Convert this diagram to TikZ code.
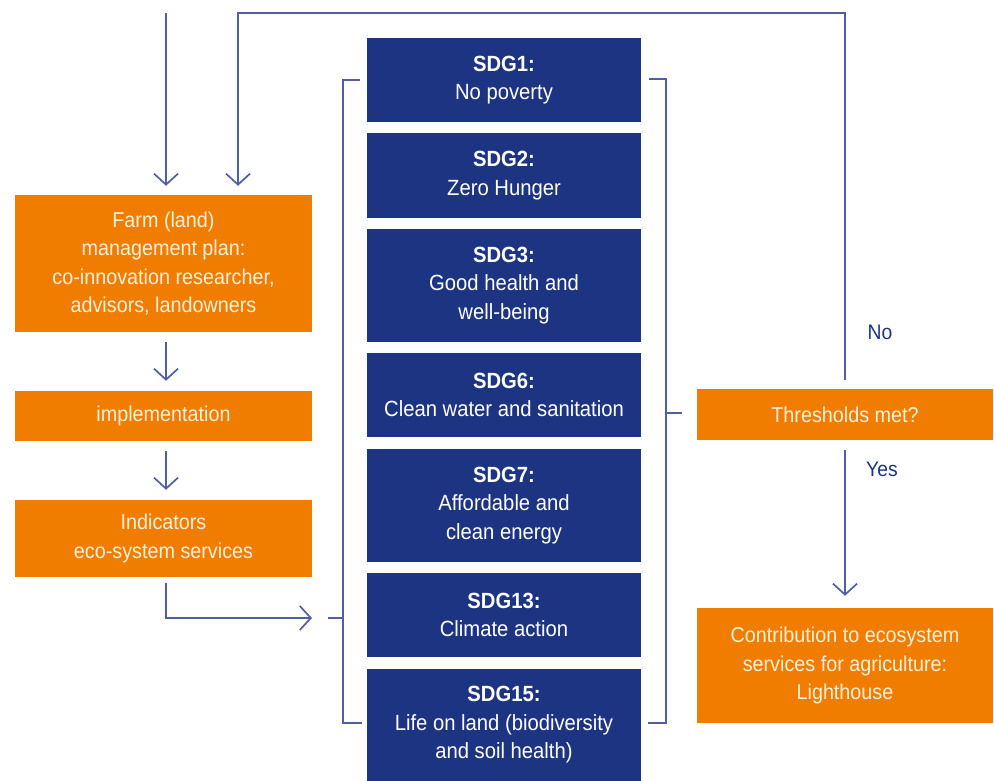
\documentclass[tikz,border=0pt]{standalone}
\usepackage{fontspec}
\setmainfont{Liberation Sans}[FakeStretch=0.92]
\usetikzlibrary{arrows.meta}
\definecolor{navy}{HTML}{1C3482}
\definecolor{orng}{HTML}{F07C00}
\definecolor{linec}{HTML}{505FA5}
\definecolor{cream}{HTML}{FFF1DA}
\tikzset{
  sdg/.style={fill=navy, text=white, minimum width=274pt, align=center, inner sep=0pt,
    font=\fontsize{22}{28.5}\selectfont},
  obox/.style={fill=orng, text=cream, align=center, inner sep=0pt,
    font=\fontsize{21.5}{28.5}\selectfont},
  lbl/.style={text=navy, inner sep=0pt, font=\fontsize{21}{25}\selectfont},
  conn/.style={draw=linec, line width=1.7pt},
  arr/.style={conn, -{Straight Barb[length=11pt,width=24pt]}}
}
\begin{document}
\begin{tikzpicture}[x=1pt,y=-1pt]
\useasboundingbox (0,0) rectangle (994,781);
% SDG column
\node[sdg, minimum height=84pt]  (s1)  at (504,80)    {\textbf{SDG1:}\\No poverty};
\node[sdg, minimum height=85pt]  (s2)  at (504,175.5) {\textbf{SDG2:}\\Zero Hunger};
\node[sdg, minimum height=113pt] (s3)  at (504,285.5) {\textbf{SDG3:}\\Good health and\\well-being};
\node[sdg, minimum height=84pt]  (s6)  at (504,395)   {\textbf{SDG6:}\\Clean water and sanitation};
\node[sdg, minimum height=113pt] (s7)  at (504,505.5) {\textbf{SDG7:}\\Affordable and\\clean energy};
\node[sdg, minimum height=84pt]  (s13) at (504,615)   {\textbf{SDG13:}\\Climate action};
\node[sdg, minimum height=112pt] (s15) at (504,725)   {\textbf{SDG15:}\\Life on land (biodiversity\\and soil health)};
% orange boxes
\node[obox, minimum width=297pt, minimum height=137pt] (farm) at (163.5,263.5)
  {Farm (land)\\management plan:\\co-innovation researcher,\\advisors, landowners};
\node[obox, minimum width=297pt, minimum height=50pt] (impl) at (163.5,416) {implementation};
\node[obox, minimum width=297pt, minimum height=77pt] (ind) at (163.5,538.5) {Indicators\\eco-system services};
\node[obox, minimum width=296pt, minimum height=51pt] (thr) at (845,414.5) {Thresholds met?};
\node[obox, minimum width=296pt, minimum height=115pt] (con) at (845,665.5)
  {Contribution to ecosystem\\services for agriculture:\\Lighthouse};
% labels
\node[lbl] (no) at (880,332) {No};
\node[lbl] (yes) at (882,469) {Yes};
% coordinates
\coordinate (inL) at (166,13);
\coordinate (fbT) at (845,13);
\coordinate (fbL) at (238,13);
\coordinate (lbt) at (343,618);
\coordinate (lbtick) at (328,618);
\coordinate (rbt) at (666,413);
% connectors
\draw[arr, shorten >=9pt] (inL) -- (inL |- farm.north);
\draw[arr, shorten <=9pt, shorten >=9pt] (thr.north) -- (fbT) -- (fbL) -- (fbL |- farm.north);
\draw[arr, shorten <=10pt, shorten >=10pt] (farm.south -| inL) -- (impl.north -| inL);
\draw[arr, shorten <=10pt, shorten >=10pt] (impl.south -| inL) -- (ind.north -| inL);
\draw[arr, shorten <=6pt, shorten >=31pt] (ind.south -| inL) |- (lbt);
\draw[arr, shorten <=10pt, shorten >=12pt] (thr.south) -- (con.north);
% brackets
\draw[conn] (360,80) -- (343,80) -- (343,723) -- (362,723);
\draw[conn] (lbtick) -- (lbt);
\draw[conn] (649,79) -- (666,79) -- (666,723) -- (648,723);
\draw[conn, shorten >=15pt] (rbt) -- (thr.west |- rbt);
\end{tikzpicture}
\end{document}
